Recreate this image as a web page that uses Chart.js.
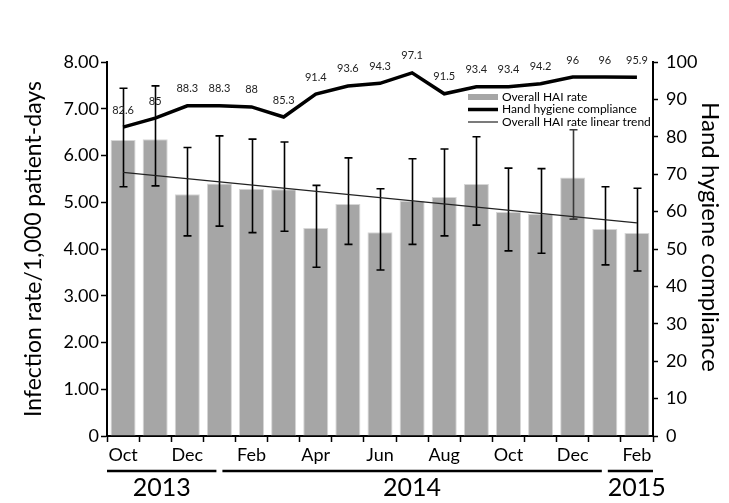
<!DOCTYPE html>
<html>
<head>
<meta charset="utf-8">
<script src="https://cdn.jsdelivr.net/npm/chart.js@4.4.1/dist/chart.umd.min.js"></script>
<style>
  html, body { margin: 0; padding: 0; background: #fff; }
  #wrap { width: 729px; height: 503px; }
</style>
</head>
<body>
<div id="wrap"><canvas id="chart" width="729" height="503"></canvas></div>
<script>
// Monthly surveillance, Oct 2013 – Feb 2015
const months = ['Oct', 'Nov', 'Dec', 'Jan', 'Feb', 'Mar', 'Apr', 'May', 'Jun', 'Jul', 'Aug', 'Sep', 'Oct', 'Nov', 'Dec', 'Jan', 'Feb'];
const yearGroups = [
  { label: '2013', first: 0, last: 2 },
  { label: '2014', first: 3, last: 14 },
  { label: '2015', first: 15, last: 16 }
];

// Overall HAI rate per 1,000 patient-days, with 95% CI bounds
const haiRate  = [6.33, 6.35, 5.17, 5.40, 5.29, 5.28, 4.45, 4.96, 4.36, 5.03, 5.11, 5.39, 4.79, 4.75, 5.53, 4.43, 4.34];
const ciLower  = [5.33, 5.35, 4.28, 4.49, 4.35, 4.38, 3.61, 4.10, 3.55, 4.10, 4.28, 4.51, 3.96, 3.91, 4.64, 3.66, 3.53];
const ciUpper  = [7.44, 7.49, 6.17, 6.42, 6.35, 6.29, 5.36, 5.95, 5.29, 5.93, 6.14, 6.40, 5.73, 5.72, 6.55, 5.33, 5.30];

// Hand hygiene compliance, %
const hygiene  = [82.6, 85, 88.3, 88.3, 88, 85.3, 91.4, 93.6, 94.3, 97.1, 91.5, 93.4, 93.4, 94.2, 96, 96, 95.9];

// Linear trend of the HAI rate (end points of the fitted line)
const haiTrend = [5.64, null, null, null, null, null, null, null, null, null, null, null, null, null, null, null, 4.56];

// Axis tick labels
const leftTicks  = ['0', '1.00', '2.00', '3.00', '4.00', '5.00', '6.00', '7.00', '8.00'];
const rightTicks = ['0', '10', '20', '30', '40', '50', '60', '70', '80', '90', '100'];
const rightTitle = 'Hand hygiene compliance';

const FONT = 'Lato, "Open Sans", "Liberation Sans", sans-serif';
Chart.defaults.font.family = FONT;
Chart.defaults.color = '#000';

// 95% CI whiskers on the bars
const errorBars = {
  id: 'errorBars',
  afterDatasetDraw(chart, args) {
    if (args.index !== 0) return;
    const { ctx } = chart;
    const y = chart.scales.y;
    const meta = args.meta;
    ctx.save();
    ctx.lineWidth = 1.6;
    meta.data.forEach((bar, i) => {
      const x = Math.round(bar.x) + 0.5;
      const top = y.getPixelForValue(ciUpper[i]);
      const bot = y.getPixelForValue(ciLower[i]);
      ctx.strokeStyle = i === 14 ? '#3a3a3a' : '#000';
      ctx.beginPath();
      ctx.moveTo(x, top); ctx.lineTo(x, bot);
      ctx.moveTo(x - 4, top); ctx.lineTo(x + 4, top);
      ctx.moveTo(x - 4, bot); ctx.lineTo(x + 4, bot);
      ctx.stroke();
    });
    ctx.restore();
  }
};

// Value labels above the compliance line
const pointLabels = {
  id: 'pointLabels',
  afterDatasetsDraw(chart) {
    const { ctx } = chart;
    const idx = chart.data.datasets.findIndex(d => d.label === 'Hand hygiene compliance');
    const meta = chart.getDatasetMeta(idx);
    ctx.save();
    ctx.font = '11px ' + FONT;
    ctx.fillStyle = '#222';
    ctx.textAlign = 'center';
    ctx.textBaseline = 'middle';
    meta.data.forEach((pt, i) => {
      ctx.fillText(String(hygiene[i]), pt.x, pt.y - 17);
    });
    ctx.restore();
  }
};

// Legend inside the plot area, upper right
const innerLegend = {
  id: 'innerLegend',
  afterDraw(chart) {
    const { ctx, chartArea } = chart;
    const x0 = chartArea.right - 185;
    const rowY = [chartArea.top + 35, chartArea.top + 47.5, chartArea.top + 60];
    ctx.save();
    ctx.font = '12px ' + FONT;
    ctx.textBaseline = 'middle';
    ctx.textAlign = 'left';
    chart.data.datasets.forEach((ds, i) => {
      const yy = rowY[i];
      if (ds.type === 'bar') {
        ctx.fillStyle = ds.backgroundColor;
        ctx.fillRect(x0, yy - 3, 30, 6);
      } else {
        ctx.strokeStyle = ds.borderColor;
        ctx.lineWidth = ds.borderWidth;
        ctx.beginPath();
        ctx.moveTo(x0, yy); ctx.lineTo(x0 + 30, yy);
        ctx.stroke();
      }
      ctx.fillStyle = '#000';
      ctx.fillText(ds.label, x0 + 34, yy);
    });
    ctx.restore();
  }
};

// Year rows under the month labels, and the right-hand axis title
const yearAxis = {
  id: 'yearAxis',
  afterDraw(chart) {
    const { ctx, chartArea } = chart;
    const x = chart.scales.x;
    const half = (x.getPixelForValue(1) - x.getPixelForValue(0)) / 2;
    const lineY = 471;
    ctx.save();
    ctx.strokeStyle = '#000';
    ctx.lineWidth = 2.5;
    ctx.fillStyle = '#000';
    ctx.font = '25px ' + FONT;
    ctx.textAlign = 'center';
    ctx.textBaseline = 'middle';
    yearGroups.forEach((g, k) => {
      const start = k === 0 ? x.getPixelForValue(g.first) - half : x.getPixelForValue(g.first) + 3;
      const end = k === yearGroups.length - 1
        ? x.getPixelForValue(g.last) + half
        : x.getPixelForValue(yearGroups[k + 1].first) - 3;
      ctx.beginPath();
      ctx.moveTo(start, lineY); ctx.lineTo(end, lineY);
      ctx.stroke();
      const w = ctx.measureText(g.label).width;
      const cx = Math.max((start + end) / 2, start + w / 2);
      ctx.fillText(g.label, cx, 488);
    });

    // right axis title, reading top to bottom
    const y2 = chart.scales.y2;
    ctx.font = '24px ' + FONT;
    ctx.translate(y2.right - 19, (chartArea.top + chartArea.bottom) / 2 - 12);
    ctx.rotate(Math.PI / 2);
    ctx.fillText(rightTitle, 0, 0);
    ctx.restore();
  }
};

new Chart(document.getElementById('chart'), {
  type: 'bar',
  data: {
    labels: months,
    datasets: [
      {
        type: 'bar',
        label: 'Overall HAI rate',
        data: haiRate,
        yAxisID: 'y',
        backgroundColor: '#a6a6a6',
        borderColor: '#d6d6d6',
        borderWidth: 1,
        barPercentage: 0.78,
        categoryPercentage: 1.0,
        order: 3
      },
      {
        type: 'line',
        label: 'Hand hygiene compliance',
        data: hygiene,
        yAxisID: 'y2',
        borderColor: '#000',
        borderWidth: 3.5,
        pointRadius: 0,
        tension: 0,
        fill: false,
        order: 1
      },
      {
        type: 'line',
        label: 'Overall HAI rate linear trend',
        data: haiTrend,
        yAxisID: 'y',
        borderColor: '#222',
        borderWidth: 1.2,
        pointRadius: 0,
        spanGaps: true,
        tension: 0,
        fill: false,
        order: 2
      }
    ]
  },
  options: {
    responsive: false,
    animation: false,
    layout: { padding: { top: 62, left: 0, right: 0, bottom: 0 } },
    plugins: {
      legend: { display: false },
      tooltip: { enabled: false }
    },
    scales: {
      x: {
        offset: true,
        grid: { offset: true, drawOnChartArea: false, drawTicks: true, tickLength: 6, tickWidth: 1.5, tickColor: '#000' },
        border: { color: '#000', width: 2 },
        ticks: {
          autoSkip: false, maxRotation: 0, minRotation: 0, padding: 2,
          font: { size: 18 }, color: '#000',
          callback: (v, i) => (i % 2 === 0 ? months[i] : '')
        },
        afterFit: s => { s.height = 67; }
      },
      y: {
        position: 'left',
        min: 0, max: 8,
        grid: { drawOnChartArea: false, drawTicks: true, tickLength: 6, tickWidth: 1.5, tickColor: '#000' },
        border: { color: '#000', width: 2 },
        ticks: { stepSize: 1, padding: 2, font: { size: 18 }, color: '#000', callback: (v, i) => leftTicks[i] },
        title: { display: true, text: 'Infection rate/1,000 patient-days', font: { size: 23 }, color: '#000', padding: { top: 20, bottom: 0 } },
        afterFit: s => { s.width = 107; }
      },
      y2: {
        position: 'right',
        min: 0, max: 100,
        grid: { drawOnChartArea: false, drawTicks: true, tickLength: 5, tickWidth: 1.5, tickColor: '#000' },
        border: { color: '#000', width: 2 },
        ticks: { stepSize: 10, padding: 8, font: { size: 18 }, color: '#000', callback: (v, i) => rightTicks[i] },
        afterFit: s => { s.width = 76; }
      }
    }
  },
  plugins: [errorBars, pointLabels, innerLegend, yearAxis]
});
</script>
</body>
</html>
